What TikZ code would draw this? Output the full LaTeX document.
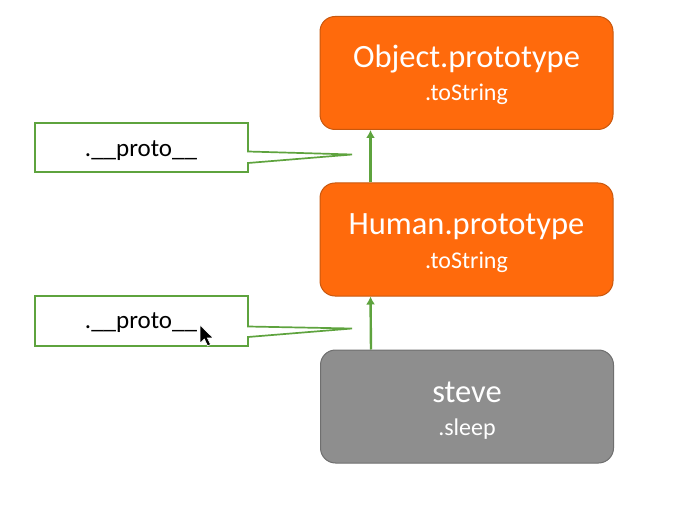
\documentclass[tikz,border=0pt]{standalone}
\usepackage{fontspec}
\setmainfont{Carlito}
\usetikzlibrary{arrows.meta}
\definecolor{orangefill}{HTML}{FF6A0C}
\definecolor{orangeedge}{HTML}{C9580E}
\definecolor{grayfill}{HTML}{8E8E8E}
\definecolor{grayedge}{HTML}{6F6F6F}
\definecolor{greenline}{HTML}{5EA33E}
\tikzset{
  protobox/.style={rectangle, rounded corners=15pt, minimum width=293pt, minimum height=113pt, line width=1pt, inner sep=0pt},
  orangebox/.style={protobox, fill=orangefill, draw=orangeedge},
  graybox/.style={protobox, fill=grayfill, draw=grayedge},
  titletext/.style={anchor=base, text=white, font=\fontsize{32.5}{34}\selectfont, inner sep=0pt},
  subtext/.style={anchor=base, text=white, font=\fontsize{24}{26}\selectfont, inner sep=0pt},
  callouttext/.style={anchor=base, text=black, font=\fontsize{25}{27}\selectfont, inner sep=0pt},
  callout/.style={draw=greenline, line width=1.7pt, fill=white, line join=miter},
  linkarrow/.style={draw=greenline, line width=2.4pt, -{Latex[length=8pt,width=9pt]}},
}
\begin{document}
\begin{tikzpicture}[x=1pt,y=-1pt]
\useasboundingbox (0,0) rectangle (680,505);
\fill[white] (0,0) rectangle (680,505);

% boxes
\node[orangebox] (object) at (466.5,73) {};
\node[orangebox] (human) at (466.5,239.5) {};
\node[graybox] (steve) at (467,406.5) {};

\node[titletext] (objectT) at (466.5,68) {Object.prototype};
\node[subtext] (objectS) at (466.5,101) {.toString};
\node[titletext] (humanT) at (466.5,235) {Human.prototype};
\node[subtext] (humanS) at (466.5,268) {.toString};
\node[titletext] (steveT) at (467,402) {steve};
\node[subtext] (steveS) at (467,435) {.sleep};

% arrows
\draw[linkarrow] ([xshift=51pt]human.north west) -- ([xshift=51pt]object.south west);
\draw[linkarrow] ([xshift=51pt]steve.north west) -- ([xshift=51pt]human.south west);

% callouts
\draw[callout] (35,123) -- (248,123) -- (248,151.5) -- (352,154.5) -- (248,163) -- (248,172) -- (35,172) -- cycle;
\node[callouttext] (proto1) at (141,157) {.\_\_proto\_\_};
\draw[callout] (35,296) -- (248,296) -- (248,326.5) -- (352,328.5) -- (248,337) -- (248,346) -- (35,346) -- cycle;
\node[callouttext] (proto2) at (141,328) {.\_\_proto\_\_};

% mouse pointer
\begin{scope}[shift={(200,325)}, scale=1.15]
\fill[black, draw=white, line width=0.6pt, line join=miter]
  (0,0) -- (0,16) -- (3.8,12.2) -- (6.6,18.2) -- (9.2,17) -- (6.4,11.2) -- (11.4,11.2) -- cycle;
\end{scope}
\end{tikzpicture}
\end{document}
